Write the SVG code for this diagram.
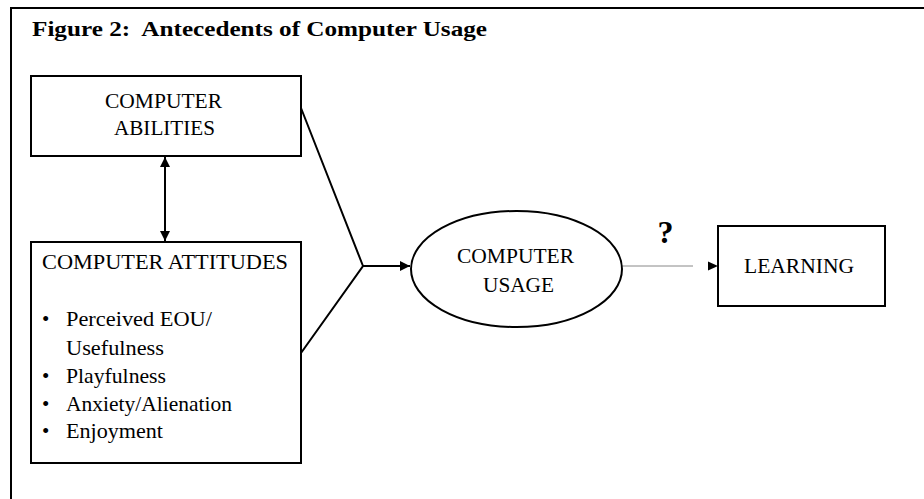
<svg xmlns="http://www.w3.org/2000/svg" width="924" height="499" viewBox="0 0 924 499">
<style>
text { font-family: "Liberation Serif", "Times New Roman", serif; fill: #000; }
.t { font-size: 21px; }
.lbl { font-size: 21px; text-anchor: middle; }
.box { fill: #fff; stroke: #000; stroke-width: 2; }
.ln { fill: none; stroke: #000; stroke-width: 2; }
</style>
<defs>
<marker id="ah" viewBox="0 0 10 10" refX="10" refY="5" markerWidth="10" markerHeight="10" markerUnits="userSpaceOnUse" orient="auto-start-reverse">
<path d="M0,0 L10,5 L0,10 z" fill="#000"/>
</marker>
</defs>
<rect width="924" height="499" fill="#fff"/>
<g id="frame">
<polyline points="11,499 11,8 924,8" class="ln"/>
<text x="32" y="36" xml:space="preserve" style="font-size:21px;font-weight:bold" textLength="455" lengthAdjust="spacingAndGlyphs">Figure 2:  Antecedents of Computer Usage</text>
</g>
<g id="connectors">
<line x1="165" y1="157" x2="165" y2="241" class="ln" marker-start="url(#ah)" marker-end="url(#ah)"/>
<polyline points="301,108 363,266 301,353" class="ln"/>
<line x1="363" y1="266" x2="410" y2="266" class="ln" marker-end="url(#ah)"/>
<line x1="622" y1="266" x2="693" y2="266" stroke="#888" stroke-width="1"/>
<path d="M708,261.5 L718,266 L708,270.5 z" fill="#000"/>
<text x="665.5" y="243" style="font-size:32px;font-weight:bold;text-anchor:middle">?</text>
</g>
<g id="abilities">
<rect x="31" y="76" width="270" height="80" class="box"/>
<text x="163.5" y="108" class="lbl" textLength="117" lengthAdjust="spacingAndGlyphs">COMPUTER</text>
<text x="164.5" y="135" class="lbl" textLength="101" lengthAdjust="spacingAndGlyphs">ABILITIES</text>
</g>
<g id="attitudes">
<rect x="31" y="242" width="270" height="221" class="box"/>
<text x="42" y="269" class="t" textLength="246" lengthAdjust="spacingAndGlyphs">COMPUTER ATTITUDES</text>
<text x="42" y="326" class="t">•</text>
<text x="66" y="326" class="t" textLength="146" lengthAdjust="spacingAndGlyphs">Perceived EOU/</text>
<text x="66" y="355" class="t" textLength="98" lengthAdjust="spacingAndGlyphs">Usefulness</text>
<text x="42" y="383" class="t">•</text>
<text x="66" y="383" class="t" textLength="100" lengthAdjust="spacingAndGlyphs">Playfulness</text>
<text x="42" y="411" class="t">•</text>
<text x="66" y="411" class="t" textLength="166" lengthAdjust="spacingAndGlyphs">Anxiety/Alienation</text>
<text x="42" y="438" class="t">•</text>
<text x="66" y="438" class="t" textLength="97" lengthAdjust="spacingAndGlyphs">Enjoyment</text>
</g>
<g id="usage">
<ellipse cx="516.5" cy="269" rx="105.5" ry="58" class="box"/>
<text x="515.5" y="263" class="lbl" textLength="117" lengthAdjust="spacingAndGlyphs">COMPUTER</text>
<text x="518.5" y="292" class="lbl" textLength="71" lengthAdjust="spacingAndGlyphs">USAGE</text>
</g>
<g id="learning">
<rect x="718" y="226" width="167" height="80" class="box"/>
<text x="799" y="273" class="lbl" textLength="110" lengthAdjust="spacingAndGlyphs">LEARNING</text>
</g>
</svg>
